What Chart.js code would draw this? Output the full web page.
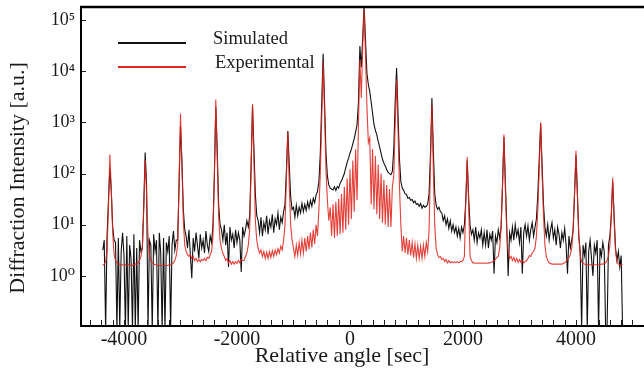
<!DOCTYPE html>
<html><head><meta charset="utf-8">
<script src="https://cdn.jsdelivr.net/npm/chart.js@4.4.0/dist/chart.umd.min.js"></script>
<style>html,body{margin:0;padding:0;background:#fff;}canvas{display:block;}</style>
</head><body>
<canvas id="c" width="644" height="373"></canvas>
<script>
// Relative angle [sec]
const angles = [
-4375,-4350,-4325,-4300,-4275,-4250,-4225,-4200,-4175,-4150,
-4125,-4100,-4075,-4050,-4025,-4000,-3975,-3950,-3925,-3900,
-3875,-3850,-3825,-3800,-3775,-3750,-3725,-3700,-3675,-3650,
-3625,-3600,-3575,-3550,-3525,-3500,-3475,-3450,-3425,-3400,
-3375,-3350,-3325,-3300,-3275,-3250,-3225,-3200,-3175,-3150,
-3125,-3100,-3075,-3050,-3025,-3000,-2975,-2950,-2925,-2900,
-2875,-2850,-2825,-2800,-2775,-2750,-2725,-2700,-2675,-2650,
-2625,-2600,-2575,-2550,-2525,-2500,-2475,-2450,-2425,-2400,
-2375,-2350,-2325,-2300,-2275,-2250,-2225,-2200,-2175,-2150,
-2125,-2100,-2075,-2050,-2025,-2000,-1975,-1950,-1925,-1900,
-1875,-1850,-1825,-1800,-1775,-1750,-1725,-1700,-1675,-1650,
-1625,-1600,-1575,-1550,-1525,-1500,-1475,-1450,-1425,-1400,
-1375,-1350,-1325,-1300,-1275,-1250,-1225,-1200,-1175,-1150,
-1125,-1100,-1075,-1050,-1025,-1000,-975,-950,-925,-900,
-875,-850,-825,-800,-775,-750,-725,-700,-675,-650,
-625,-600,-575,-550,-525,-500,-475,-450,-425,-400,
-375,-350,-325,-300,-275,-250,-225,-200,-175,-150,
-125,-100,-75,-50,-25,0,25,50,75,100,
125,150,175,200,225,250,275,300,325,350,
375,400,425,450,475,500,525,550,575,600,
625,650,675,700,725,750,775,800,825,850,
875,900,925,950,975,1000,1025,1050,1075,1100,
1125,1150,1175,1200,1225,1250,1275,1300,1325,1350,
1375,1400,1425,1450,1475,1500,1525,1550,1575,1600,
1625,1650,1675,1700,1725,1750,1775,1800,1825,1850,
1875,1900,1925,1950,1975,2000,2025,2050,2075,2100,
2125,2150,2175,2200,2225,2250,2275,2300,2325,2350,
2375,2400,2425,2450,2475,2500,2525,2550,2575,2600,
2625,2650,2675,2700,2725,2750,2775,2800,2825,2850,
2875,2900,2925,2950,2975,3000,3025,3050,3075,3100,
3125,3150,3175,3200,3225,3250,3275,3300,3325,3350,
3375,3400,3425,3450,3475,3500,3525,3550,3575,3600,
3625,3650,3675,3700,3725,3750,3775,3800,3825,3850,
3875,3900,3925,3950,3975,4000,4025,4050,4075,4100,
4125,4150,4175,4200,4225,4250,4275,4300,4325,4350,
4375,4400,4425,4450,4475,4500,4525,4550,4575,4600,
4625,4650,4675,4700,4725,4750,4775,4800,4825
];

// Diffraction intensity [a.u.] - simulated (black)
const simulated = [
3.2,5.0,0.09,6,30,130,45,9,5,4.5,
0.09,5.5,0.09,3.0,7.0,2.5,0.09,6.0,0.09,4.0,
2.2,0.09,6.5,0.09,3.5,0.09,5.0,3.0,3.5,25,
257,60,0.09,5,4.0,0.09,6.5,3.0,5.0,0.09,
7.0,2.8,0.09,5.5,0.09,4.5,3.0,6.0,0.09,4.0,
7.5,3.2,5.0,5.0,60,850,180,20,8,6.0,
3.5,8.0,2.5,0.9,5.5,3.0,7.0,4.0,2.2,6.5,
3.5,5.0,2.8,7.5,4.0,3.0,6.0,4.5,10,90,
2000,300,25,10,8,5,10,4,7,1.5,
9,5,6.5,3.5,8,4.5,7,5,1.2,9,
6,8,12,9,15,150,2100,300,40,15,
12,7,14,6,11,8,15,6.5,12,9,
16,7,13,10,17,8,14,11,18,25,
120,680,150,35,20,22,14,24,15,22,
17,26,18,25,19,28,21,30,23,33,
27,38,45,70,250,2500,22000,2500,250,90,
60,52,50,48,55,47,56,52,65,72,
85,100,130,165,200,250,300,380,480,650,
900,2500,31000,12000,45000,190000,40000,9000,5500,4000,
2500,1500,900,700,570,420,330,250,190,160,
140,120,105,100,95,110,300,2500,11500,1500,
200,70,52,47,40,39,33,34,30,31,
27,29,25,26,23,26,21,24,22,23,
25,40,250,3000,300,40,24,20,22,18,
17,12,15,10,13,8.5,12,7.5,10,7,
9,6,8.5,5.5,9,7,10,30,180,35,
10,6.5,8,5,9,4.5,7,5.5,8,4,
7,4,8,3.5,6.5,5,7.5,1.1,6,4.5,
8,5.5,9,60,520,70,9,1.0,7,5,
9,5,10,6,8,4.5,9,1.1,7,10,
6,9.5,5,8,11,6,9,13,40,200,
950,150,25,9,6,10,5,8,11,5.5,
8,4,9,6.5,3.5,7,5,8.5,4,1.1,
6,3.5,5,8,40,230,40,6,3,0.09,
4,2.5,4.5,0.09,3,5,2.2,1.0,4,2.8,
5,0.09,3.5,2.4,4.5,3,0.09,0.09,4,6,
15,70,15,3.5,2.0,3.0,1.5,2.5,0.09
];

// Diffraction intensity [a.u.] - experimental (red)
const experimental = [
1.6,1.7,1.9,3.0,22,235,50,7,2.6,2.0,
1.8,1.7,1.7,1.65,1.65,1.6,1.65,1.6,1.65,1.6,
1.65,1.6,1.65,1.7,1.7,1.8,2.0,2.4,3.5,20,
186,40,6,2.5,2.0,1.8,1.7,1.65,1.65,1.6,
1.6,1.6,1.6,1.6,1.6,1.6,1.6,1.65,1.65,1.7,
1.8,2.0,2.5,4,70,1500,150,12,4,3.0,
2.6,2.4,2.6,2.2,2.4,2.0,2.2,1.9,2.1,1.9,
2.1,2.0,2.2,2.0,2.3,2.2,2.6,3.0,6,100,
2800,200,15,5,3.5,2.8,2.4,2.0,2.2,1.8,
2.0,1.7,1.9,1.7,1.9,1.75,2.0,1.8,2.1,2.0,
2.0,2.4,2.8,4.0,8,120,2300,180,12,5,
3.5,2.8,3.2,2.4,3.0,2.2,2.9,2.2,3.0,2.3,
3.1,2.4,3.2,2.6,3.4,2.8,3.8,3.2,5.0,10,
80,650,60,10,5,3.5,2.4,4.0,2.5,4.5,
2.7,5.0,2.8,5.5,3.0,6.0,3.3,7.0,3.6,8.0,
4.2,10,6,20,100,1200,15000,1500,120,30,
12,22,6,25,5.5,28,6,32,6.5,40,
7,55,8,80,10,120,13,180,18,300,
30,900,17000,3000,30000,160000,20000,2000,400,500,
25,300,20,220,16,150,13,100,11,75,
10,60,9,50,9,55,90,900,7000,700,
60,10,3,6,2.8,5.5,2.6,5,2.5,4.5,
2.3,4.2,2.2,4.0,2.2,3.8,2.2,4.0,2.4,4.5,
3.0,8,150,2200,120,10,3.5,2.6,2.3,2.4,
2.1,2.2,1.9,2.1,1.8,2.0,1.8,1.9,1.8,1.9,
1.8,1.9,1.8,1.9,1.9,2.0,2.4,30,210,25,
2.4,2.0,1.8,1.8,1.75,1.8,1.75,1.8,1.75,1.8,
1.75,1.8,1.75,1.8,1.8,1.85,1.9,2.0,2.1,2.3,
2.4,3.5,9,60,580,50,7,3.0,2.2,2.4,
2.0,2.3,1.9,2.2,1.85,2.1,1.85,2.0,1.8,1.9,
2.0,2.2,2.5,2.4,2.8,3.0,3.5,6,20,120,
1000,100,15,4,2.4,2.0,1.8,1.75,1.7,1.7,
1.7,1.7,1.7,1.7,1.7,1.7,1.75,1.8,1.9,2.1,
2.3,2.6,3.5,8,45,280,40,6,2.5,1.9,
1.75,1.7,1.65,1.65,1.65,1.65,1.65,1.65,1.65,1.65,
1.65,1.65,1.65,1.7,1.7,1.75,1.8,2.0,2.4,4.0,
15,83,12,3.0,1.9,1.7,1.65,1.65,1.65
];

const xTickValues = [-4000, -2000, 0, 2000, 4000];
const yTickValues = [1, 10, 100, 1000, 10000, 100000];
const yTickLabels = ['10\u2070', '10\u00B9', '10\u00B2', '10\u00B3', '10\u2074', '10\u2075'];
const seriesNames = ['Simulated', 'Experimental'];
const seriesColors = ['#111111', 'rgb(224,38,30)'];
const xAxisTitle = 'Relative angle [sec]';
const yAxisTitle = 'Diffraction Intensity [a.u.]';

const FONT = "'Liberation Serif', 'DejaVu Serif', serif";
const toPoints = vals => vals.map((v, i) => ({x: angles[i], y: v}));

const decorations = {
  id: 'decorations',
  beforeDraw(chart) {
    const ctx = chart.ctx;
    ctx.save();
    ctx.fillStyle = '#fff';
    ctx.fillRect(0, 0, chart.width, chart.height);
    ctx.restore();
  },
  afterDraw(chart) {
    const {ctx, chartArea: {left, right, top, bottom}, scales: {x, y}} = chart;
    ctx.save();
    // top frame line
    ctx.strokeStyle = '#000';
    ctx.lineWidth = 2.5;
    ctx.beginPath();
    ctx.moveTo(left - 1, top);
    ctx.lineTo(right, top);
    ctx.stroke();
    // inward ticks
    ctx.lineWidth = 1;
    ctx.strokeStyle = '#222';
    ctx.beginPath();
    for (let v = Math.ceil(x.min / 200) * 200; v <= x.max; v += 200) {
      const px = Math.round(x.getPixelForValue(v)) + 0.5;
      ctx.moveTo(px, bottom - 1);
      ctx.lineTo(px, bottom - 6);
    }
    yTickValues.forEach(v => {
      const py = Math.round(y.getPixelForValue(v)) + 0.5;
      ctx.moveTo(left + 1, py);
      ctx.lineTo(left + 5, py);
    });
    ctx.stroke();
    // legend
    const legendRows = [
      {y: 43, tx: 213, ty: 44},
      {y: 67, tx: 215, ty: 68}
    ];
    ctx.font = '18.5px ' + FONT;
    ctx.textBaseline = 'alphabetic';
    ctx.textAlign = 'left';
    chart.data.datasets.forEach((ds, i) => {
      const r = legendRows[i];
      ctx.strokeStyle = seriesColors[i];
      ctx.lineWidth = 2;
      ctx.beginPath();
      ctx.moveTo(118, r.y);
      ctx.lineTo(186, r.y);
      ctx.stroke();
      ctx.fillStyle = '#1a1a1a';
      ctx.fillText(ds.label, r.tx, r.ty);
    });
    // axis titles
    ctx.fillStyle = '#1a1a1a';
    ctx.font = '22px ' + FONT;
    ctx.textAlign = 'center';
    ctx.textBaseline = 'middle';
    ctx.fillText(xAxisTitle, 342, 356);
    ctx.translate(18, 178);
    ctx.rotate(-Math.PI / 2);
    ctx.fillText(yAxisTitle, 0, 0);
    ctx.restore();
  }
};

new Chart(document.getElementById('c'), {
  type: 'line',
  data: {
    datasets: [
      {label: seriesNames[0], data: toPoints(simulated), borderColor: seriesColors[0],
       borderWidth: 1.1, pointRadius: 0, tension: 0, order: 2},
      {label: seriesNames[1], data: toPoints(experimental), borderColor: 'rgba(224,38,30,0.88)',
       borderWidth: 1.1, pointRadius: 0, tension: 0, order: 1}
    ]
  },
  options: {
    responsive: false,
    animation: false,
    devicePixelRatio: 1,
    layout: {padding: {top: 7, right: 0, left: 0, bottom: 0}},
    plugins: {legend: {display: false}, tooltip: {enabled: false}},
    scales: {
      x: {
        type: 'linear', min: -4761, max: 5204,
        afterBuildTicks: a => { a.ticks = xTickValues.map(v => ({value: v})); },
        afterFit: a => { a.height = 47; a.paddingLeft = 0; a.paddingRight = 0; },
        ticks: {callback: v => String(v), font: {family: FONT, size: 20}, color: '#1a1a1a',
                padding: 2, maxRotation: 0, autoSkip: false},
        grid: {drawOnChartArea: false, drawTicks: false},
        border: {display: true, color: '#000', width: 2}
      },
      y: {
        type: 'logarithmic', min: 0.105, max: 180000,
        afterBuildTicks: a => { a.ticks = yTickValues.map(v => ({value: v})); },
        afterFit: a => { a.width = 81; a.paddingTop = 0; a.paddingBottom = 0; },
        ticks: {callback: v => { const k = yTickValues.indexOf(v); return k >= 0 ? yTickLabels[k] : ''; },
                font: {family: FONT, size: 18}, color: '#1a1a1a', padding: 6, autoSkip: false},
        grid: {drawOnChartArea: false, drawTicks: false},
        border: {display: true, color: '#000', width: 2}
      }
    }
  },
  plugins: [decorations]
});
</script>
</body></html>
